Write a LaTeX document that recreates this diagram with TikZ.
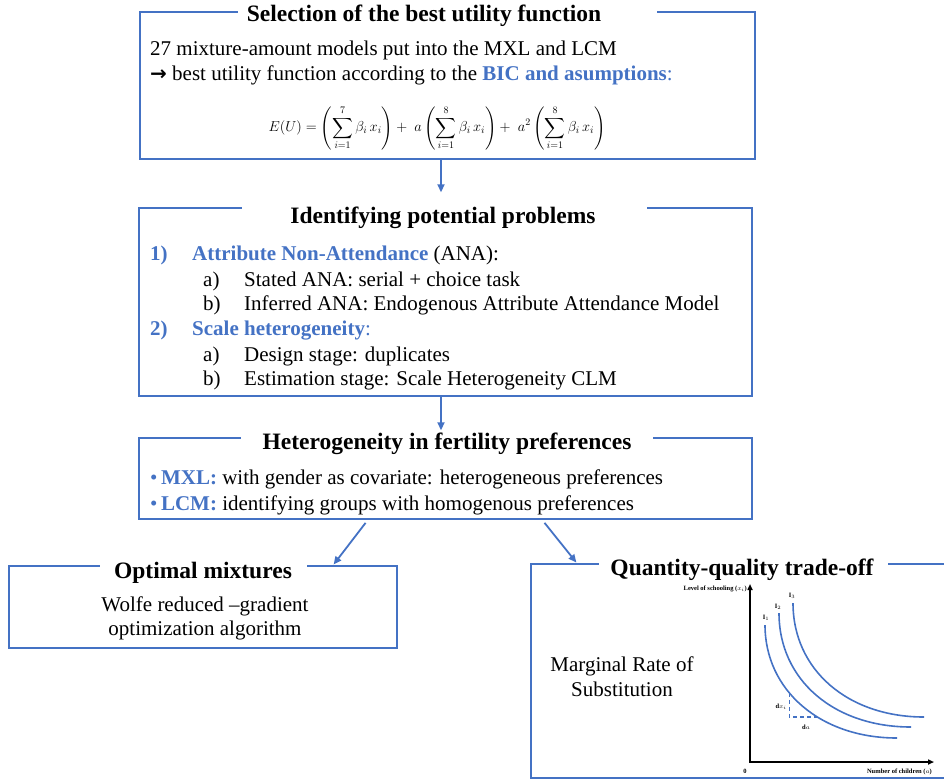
\documentclass[tikz,border=0pt]{standalone}
\usepackage{exscale}
\usepackage{fontspec}
\setmainfont{Liberation Serif}
\newfontfamily\arrowfont{DejaVu Sans}
\usetikzlibrary{arrows.meta}
\definecolor{accent}{HTML}{4472C4}
\newcommand\accenttext[1]{{\color{accent}\bfseries #1}}
\newcommand\bulletmark{{\color{accent}•}\,}
\begin{document}
\begin{tikzpicture}[x=1pt,y=-1pt,
  frame/.style={draw=accent, line width=1.4pt, inner sep=0pt},
  title/.style={font=\fontsize{23.5}{27}\selectfont\bfseries, anchor=base, inner sep=0pt},
  body/.style={font=\fontsize{21}{25}\selectfont, anchor=base west, inner sep=0pt},
  centred/.style={font=\fontsize{21}{25}\selectfont, anchor=base, inner sep=0pt},
  flow/.style={draw=accent, line width=1.8pt, -{Triangle[length=8pt,width=7pt]}},
  curve/.style={draw=accent, line width=1.6pt},
  guide/.style={draw=accent, line width=1.4pt, dash pattern=on 4pt off 3pt},
  tiny/.style={font=\fontsize{6.5}{7}\selectfont\bfseries, inner sep=0pt}
]
\useasboundingbox (0,0) rectangle (944,780);
\clip (0,0) rectangle (944,780);

% ---------- frames ----------
\node[frame, minimum width=615pt, minimum height=147pt] (sel) at (447.5,85.5) {};
\node[frame, minimum width=613pt, minimum height=188pt] (prob) at (445.5,302) {};
\node[frame, minimum width=613pt, minimum height=81pt] (het) at (445.5,478.5) {};
\node[frame, minimum width=388pt, minimum height=82pt] (opt) at (203,607) {};
\node[frame, minimum width=419pt, minimum height=214pt] (qq) at (740.5,671) {};

% gaps in the top borders for the titles
\fill[white] (238,6) rectangle (657,18);
\fill[white] (242,202) rectangle (647,214);
\fill[white] (241,432) rectangle (653,444);
\fill[white] (100,560) rectangle (307,572);
\fill[white] (599,558) rectangle (888,570);

% ---------- titles ----------
\node[title] (selT) at (424,21) {Selection of the best utility function};
\node[title] (probT) at (443,223) {Identifying potential problems};
\node[title] (hetT) at (447,449) {Heterogeneity in fertility preferences};
\node[title] (optT) at (203,578) {Optimal mixtures};
\node[title] (qqT) at (742,575) {Quantity-quality trade-off};

% ---------- box 1 ----------
\node[body] (s1) at (150,55) {27 mixture-amount models put into the MXL and LCM};
\node[body] (s2) at (150,80) {{\arrowfont\bfseries\fontsize{20}{22}\selectfont →} best utility function according to the \accenttext{BIC and asumptions}\textcolor{accent}{:}};
\node[inner sep=0pt, font=\fontsize{14.2}{17}\selectfont] (eq) at (437,128)
  {$\displaystyle E(U)=\left(\sum_{i=1}^{7}\beta_i\,x_i\right)+\;a\left(\sum_{i=1}^{8}\beta_i\,x_i\right)+\;a^2\left(\sum_{i=1}^{8}\beta_i\,x_i\right)$};

% ---------- box 2 ----------
\node[body, text=accent, font=\fontsize{21}{25}\selectfont\bfseries] (n1) at (150,260) {1)};
\node[body] (t1) at (192,260) {\accenttext{Attribute Non-Attendance} (ANA):};
\node[body] (n1a) at (203,286) {a)};
\node[body] (t1a) at (244,286) {Stated ANA: serial + choice task};
\node[body] (n1b) at (203,310) {b)};
\node[body] (t1b) at (244,310) {Inferred ANA: Endogenous Attribute Attendance Model};
\node[body, text=accent, font=\fontsize{21}{25}\selectfont\bfseries] (n2) at (150,335) {2)};
\node[body] (t2) at (192,335) {\accenttext{Scale heterogeneity}\textcolor{accent}{:}};
\node[body] (n2a) at (203,361) {a)};
\node[body] (t2a) at (244,361) {Design stage: duplicates};
\node[body] (n2b) at (203,385) {b)};
\node[body] (t2b) at (244,385) {Estimation stage: Scale Heterogeneity CLM};

% ---------- box 3 ----------
\node[body] (h1) at (150,484) {\bulletmark\accenttext{MXL:} with gender as covariate: heterogeneous preferences};
\node[body] (h2) at (150,510) {\bulletmark\accenttext{LCM:} identifying groups with homogenous preferences};

% ---------- box 4 ----------
\node[centred] (o1) at (205,611) {Wolfe reduced –gradient};
\node[centred] (o2) at (205,635) {optimization algorithm};

% ---------- box 5 ----------
\node[centred] (m1) at (622,671) {Marginal Rate of};
\node[centred] (m2) at (622,696) {Substitution};

% indifference curves
\draw[black, line width=1.6pt, {Triangle[length=6pt,width=5pt]}-{Triangle[length=6pt,width=5pt]}]
  (750,584) -- (750,762) -- (934,762);
\draw[curve] (765,625) .. controls (765,690) and (820,738) .. coordinate[pos=0.4] (p1) coordinate[pos=0.6] (p2) (897,738);
\draw[curve] (779,613) .. controls (779,680) and (834,727) .. (911,727);
\draw[curve] (793,603) .. controls (793,670) and (848,717) .. (924,717);
\draw[guide] (p1) |- (p2);

\node[tiny] (i1) at (766,618) {$\mathbf{I}_1$};
\node[tiny] (i2) at (778,607) {$\mathbf{I}_2$};
\node[tiny] (i3) at (792,596) {$\mathbf{I}_3$};
\node[tiny] (dx) at (781,707) {d$x_i$};
\node[tiny] (da) at (806,727) {d$a$};
\node[tiny, anchor=east] (ylab) at (747,589) {Level of schooling ($x_i$)};
\node[tiny] (zero) at (745,771) {0};
\node[tiny, anchor=east] (xlab) at (932,772) {Number of children ($a$)};

% ---------- connectors ----------
\coordinate (c1) at (441,0);
\coordinate (c3) at (368,0);
\coordinate (c4) at (333,0);
\coordinate (c5) at (542,0);
\coordinate (c6) at (577,0);
\draw[flow, shorten >=15pt] (sel.south -| c1) -- (prob.north -| c1);
\draw[flow, shorten >=7pt] (prob.south -| c1) -- (het.north -| c1);
\draw[flow, shorten <=4pt, shorten >=1pt] (het.south -| c3) -- (opt.north -| c4);
\draw[flow, shorten <=4pt, shorten >=1pt] (het.south -| c5) -- (qq.north -| c6);
\end{tikzpicture}
\end{document}
